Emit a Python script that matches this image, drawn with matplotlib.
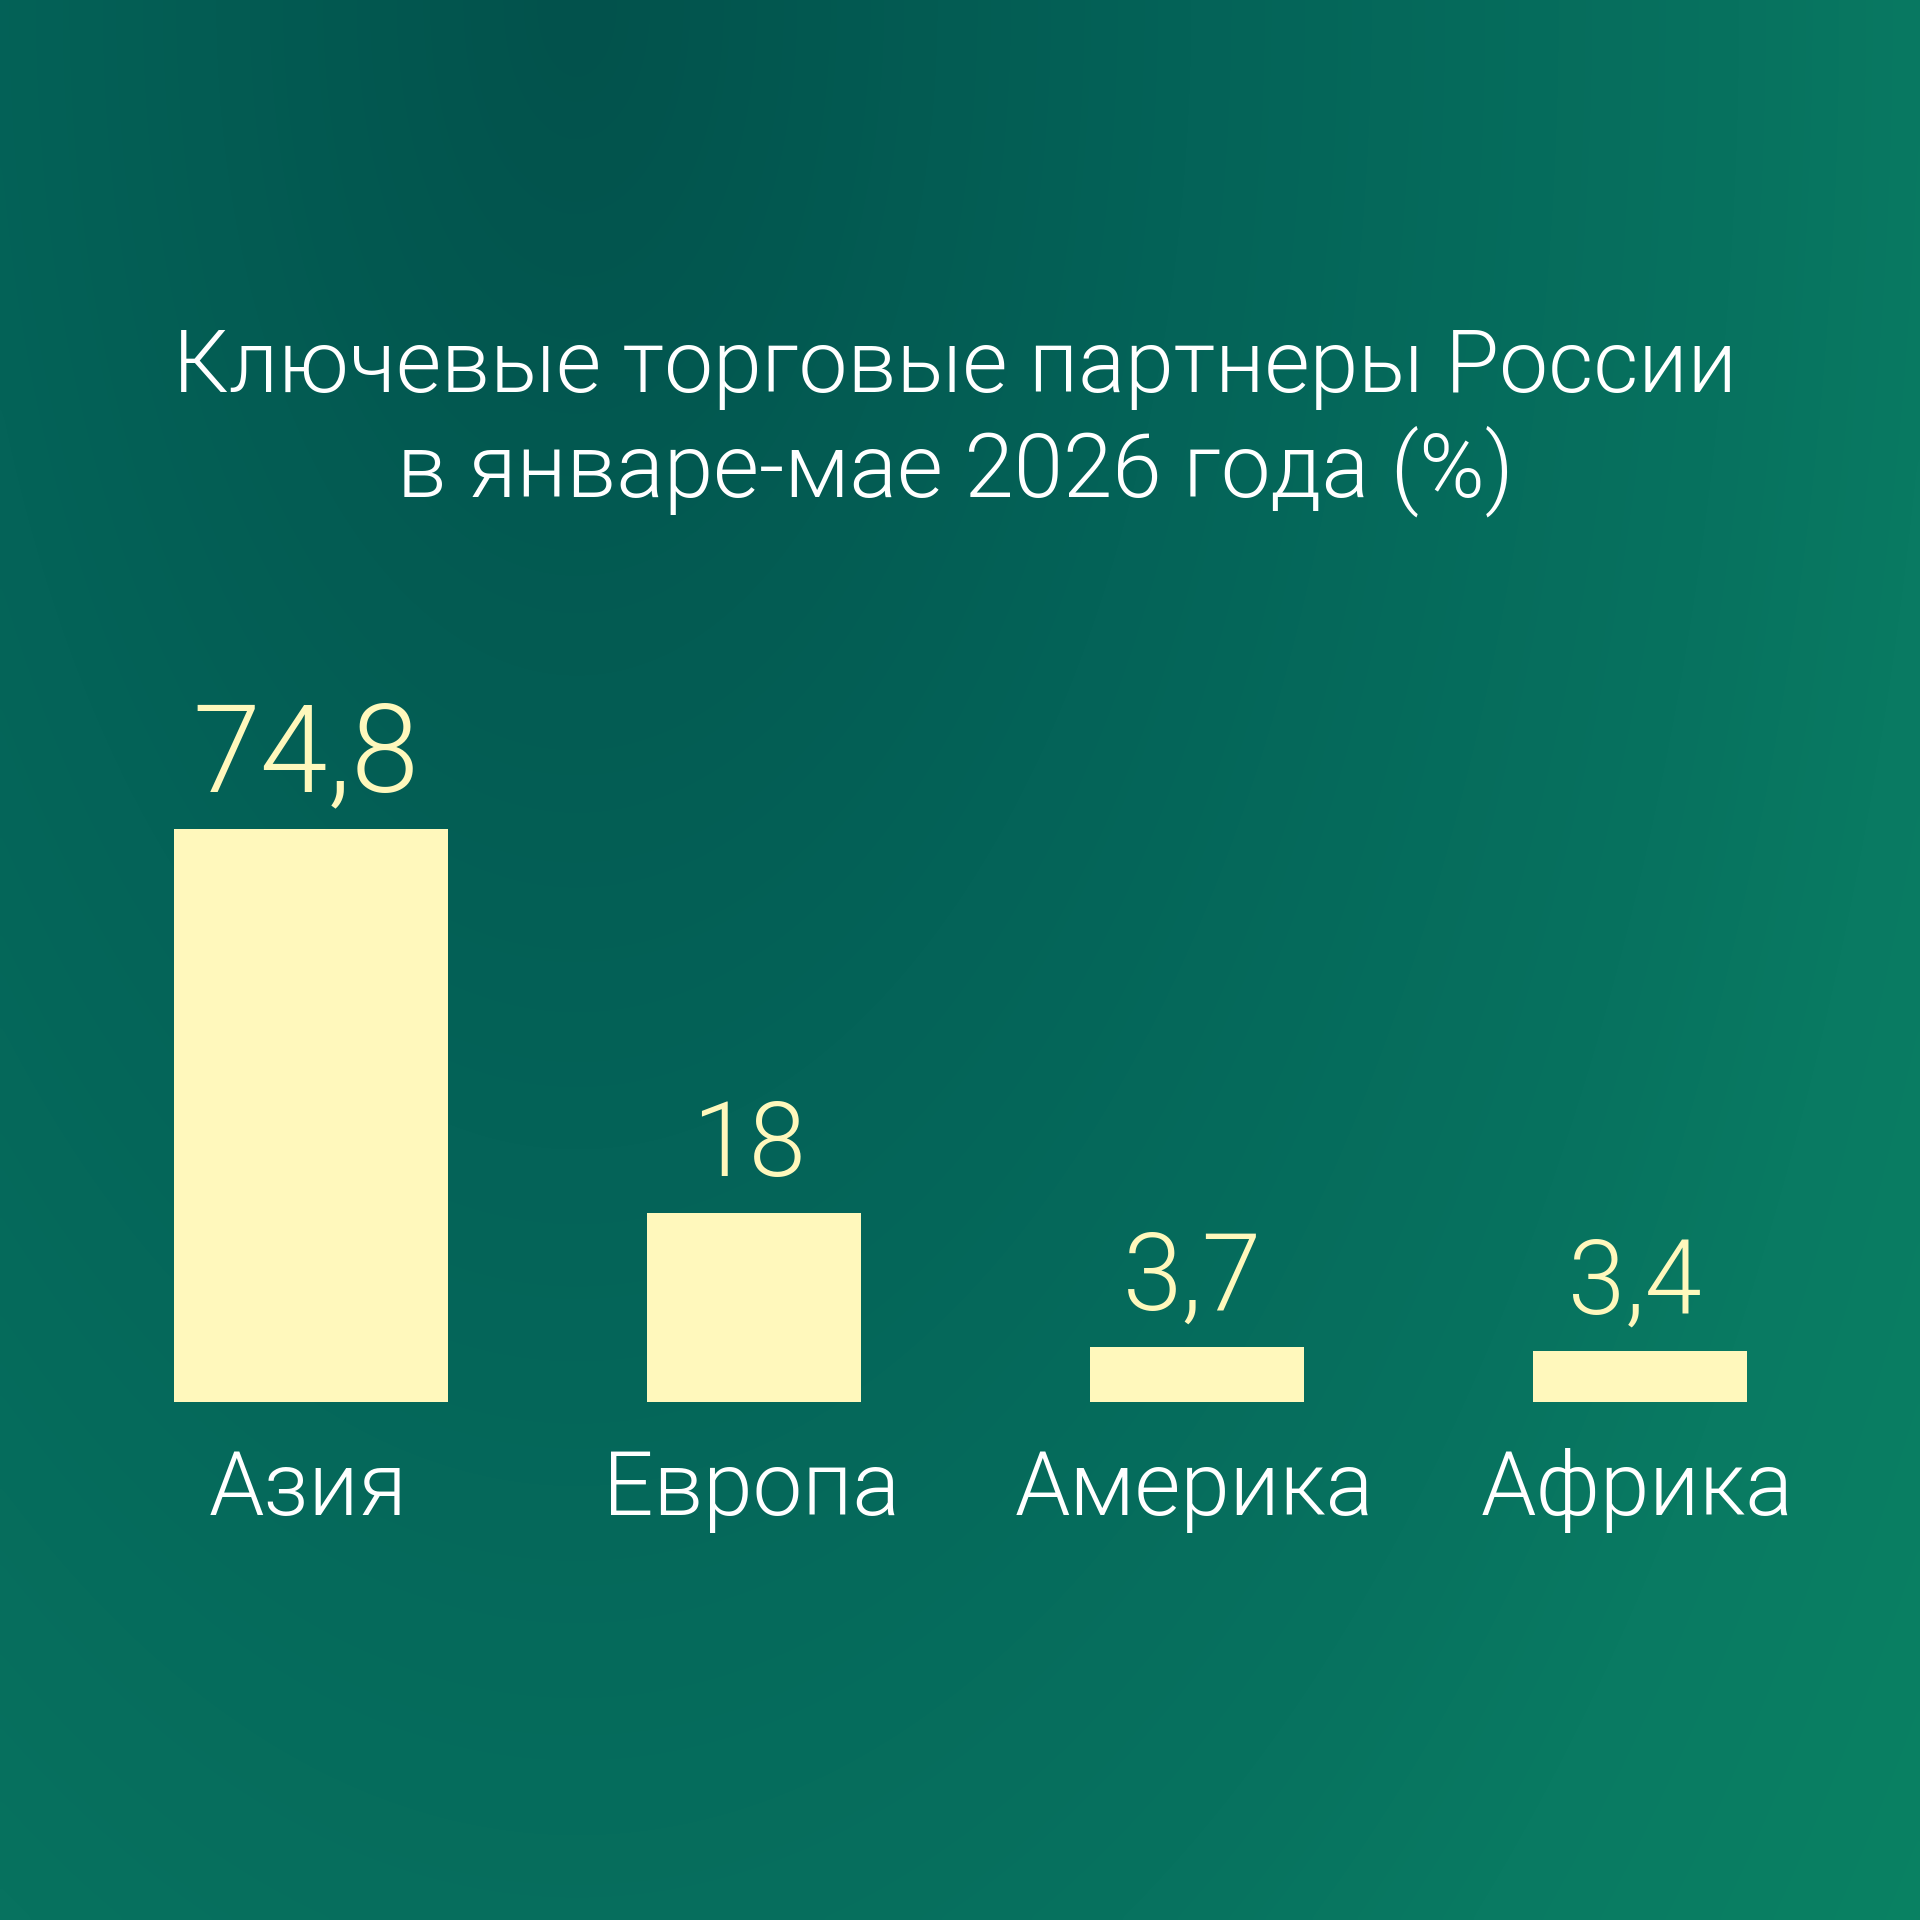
import numpy as np
import matplotlib
matplotlib.use("Agg")
import matplotlib.pyplot as plt
from matplotlib.colors import LinearSegmentedColormap

# ---- data ----
categories = ["Азия", "Европа", "Америка", "Африка"]
values = [74.8, 18, 3.7, 3.4]
title_lines = ["Ключевые торговые партнеры России", "в январе-мае 2026 года (%)"]

# ---- style ----
W = H = 1920
DPI = 100
BAR_COLOR = "#fff8bc"
VALUE_COLOR = "#fff8bc"
TEXT_COLOR = "#ffffff"
FONT = ["Roboto", "DejaVu Sans"]
WEIGHT = 300
bar_widths = [0.619, 0.483, 0.483, 0.483]
value_sizes = [88, 74, 77, 74]
POW = 0.78          # visual compression of bar heights
PX_PER_UNIT = 19.8

plt.rcParams["font.family"] = FONT

fig = plt.figure(figsize=(W / DPI, H / DPI), dpi=DPI)

# background gradient
bg = fig.add_axes([0, 0, 1, 1])
xx, yy = np.meshgrid(np.linspace(0, 1, 400), np.linspace(0, 1, 400))
t = np.sqrt(((xx - 0.3) * 1.4) ** 2 + (yy * 0.75) ** 2) / 1.25
cmap = LinearSegmentedColormap.from_list(
    "bg",
    [(0.0, "#02524c"), (0.36, "#046358"), (0.68, "#07725f"),
     (0.8, "#097a62"), (1.0, "#0a8262")])
bg.imshow(t, cmap=cmap, vmin=0, vmax=1, extent=[0, 1, 1, 0], aspect="auto",
          interpolation="bicubic")
bg.set_axis_off()

# chart axes: bottom of bars at 1402 px from top
axis_bottom_px = H - 1402
axis_height_px = 900
ax = fig.add_axes([0, axis_bottom_px / H, 1, axis_height_px / H])
ax.patch.set_alpha(0)

fwd = lambda v: np.sign(v) * np.abs(v) ** POW
inv = lambda v: np.sign(v) * np.abs(v) ** (1 / POW)
ax.set_yscale("function", functions=(fwd, inv))

unit_px = 443.0
x0_px = 311.0
x = np.arange(len(categories))
ax.set_xlim(-x0_px / unit_px, (W - x0_px) / unit_px)
ax.set_ylim(0, inv(axis_height_px / PX_PER_UNIT))

bars = ax.bar(x, values, width=bar_widths, color=BAR_COLOR, linewidth=0)

for xi, v, s, cat in zip(x, values, value_sizes, categories):
    label = f"{v:g}".replace(".", ",")
    ax.annotate(label, (xi, v), xytext=(-5, 37), textcoords="offset pixels",
                ha="center", va="baseline", fontsize=s, color=VALUE_COLOR,
                fontweight=WEIGHT)
    ax.annotate(cat, (xi, 0), xytext=(-3, -113), textcoords="offset pixels",
                ha="center", va="baseline", fontsize=64, color=TEXT_COLOR,
                fontweight=WEIGHT, annotation_clip=False)

ax.set_axis_off()

fig.text(955 / W, 1 - 392 / H, title_lines[0], ha="center", va="baseline",
         fontsize=63, color=TEXT_COLOR, fontweight=WEIGHT)
fig.text(955 / W, 1 - 497 / H, title_lines[1], ha="center", va="baseline",
         fontsize=64, color=TEXT_COLOR, fontweight=WEIGHT)

fig.savefig("out.png", dpi=DPI)
